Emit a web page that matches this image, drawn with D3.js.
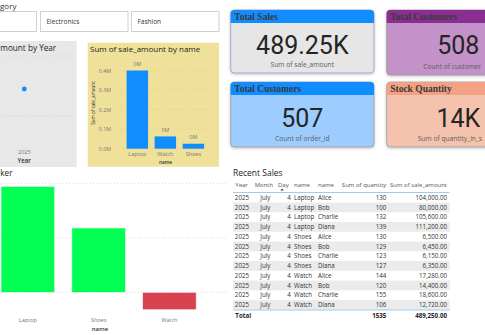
<!DOCTYPE html>
<html>
<head>
<meta charset="utf-8">
<script src="https://cdn.jsdelivr.net/npm/d3@7"></script>
<style>
  html, body { margin: 0; padding: 0; background: #fff; overflow: hidden; }
  svg { display: block; font-family: "Open Sans", "Segoe UI", sans-serif; }
</style>
</head>
<body>
<div id="dash"></div>
<script>
const W = 485, H = 335;

// slicer
const slicerItems = ["", "Electronics", "Fashion"];

// sum of sale_amount by year
const years = [2025];
const yearSales = [489250];
const yearGrid = [489000, 489500];

// sum of sale_amount by name
const names = ["Laptop", "Watch", "Shoes"];
const nameSales = [400800, 63000, 25450];
const salesTicks = [0, 100000, 200000, 300000, 400000];

// variance chart (bottom left)
const trackNames = ["Laptop", "Shoes", "Watch"];
const trackValues = [97, 59, -16];
const trackGrid = [0, 50, 100];

// cards (labels as far as they are visible in the dashboard crop)
const cardTitles = ["Total Sales", "Total Customers", "Total Customers", "Stock Quantity"];
const cardValues = ["489.25K", "508", "507", "14K"];
const cardLabels = ["Sum of sale_amount", "Count of customer", "Count of order_id", "Sum of quantity_in_s"];
const cardHeadColors = ["#118DFF", "#8A2E92", "#118DFF", "#F2A183"];
const cardBodyColors = ["#E6E6E6", "#C392C9", "#9DCCFF", "#F5C3AD"];

// table
const tableCols = ["Year", "Month", "Day", "name", "name", "Sum of quantity", "Sum of sale_amount"];
const rowYear = [2025, 2025, 2025, 2025, 2025, 2025, 2025, 2025, 2025, 2025, 2025, 2025];
const rowMonth = ["July", "July", "July", "July", "July", "July", "July", "July", "July", "July", "July", "July"];
const rowDay = [4, 4, 4, 4, 4, 4, 4, 4, 4, 4, 4, 4];
const rowProduct = ["Laptop", "Laptop", "Laptop", "Laptop", "Shoes", "Shoes", "Shoes", "Shoes", "Watch", "Watch", "Watch", "Watch"];
const rowCustomer = ["Alice", "Bob", "Charlie", "Diana", "Alice", "Bob", "Charlie", "Diana", "Alice", "Bob", "Charlie", "Diana"];
const rowQty = [130, 100, 132, 139, 130, 129, 123, 127, 144, 120, 155, 106];
const rowAmount = [104000, 80000, 105600, 111200, 6500, 6450, 6150, 6350, 17280, 14400, 18600, 12720];

const svg = d3.select("#dash").append("svg").attr("width", W).attr("height", H);

const defs = svg.append("defs");
const shadow = defs.append("filter").attr("id", "shadow").attr("x", "-10%").attr("y", "-10%").attr("width", "130%").attr("height", "140%");
shadow.append("feDropShadow").attr("dx", 0).attr("dy", 1).attr("stdDeviation", 1.5).attr("flood-color", "#000").attr("flood-opacity", 0.25);

// ==================== slicer =====================
svg.append("text").attr("x", 0).attr("y", 9).attr("font-size", 8).attr("fill", "#333").text("gory");
const slicerX = [-60, 40.5, 131.5];
const slicerW = [96.5, 87.5, 87.5];
slicerItems.forEach((s, i) => {
  svg.append("rect").attr("x", slicerX[i]).attr("y", 11.5).attr("width", slicerW[i]).attr("height", 20)
    .attr("fill", "#fff").attr("stroke", "#d0d0d0");
  svg.append("text").attr("x", slicerX[i] + 6).attr("y", 24).attr("font-size", 6.5).attr("fill", "#333").text(s);
});

// ==================== sale_amount by Year =====================
const yearG = svg.append("g");
yearG.append("rect").attr("x", -2).attr("y", 41).attr("width", 78.5).attr("height", 126).attr("fill", "#E8E8E8");
yearG.append("text").attr("x", 0.3).attr("y", 50.5).attr("font-size", 8.2)
  .attr("fill", "#252423").text("mount by Year");
const yYear = d3.scaleLinear().domain([489000, 489500]).range([116, 56]);
const xYear = d3.scalePoint().domain(years).range([24.3, 24.3]);
yearG.selectAll(".ygrid").data(yearGrid).enter().append("line")
  .attr("x1", 2).attr("x2", 74).attr("y1", d => yYear(d)).attr("y2", d => yYear(d))
  .attr("stroke", "#c8c8c8").attr("stroke-width", 0.6).attr("stroke-dasharray", "1,2");
yearG.selectAll(".ydot").data(years).enter().append("circle")
  .attr("cx", d => xYear(d)).attr("cy", (d, i) => yYear(yearSales[i]) + 3).attr("r", 2.4).attr("fill", "#118DFF");
yearG.append("text").attr("x", 24.3).attr("y", 154).attr("text-anchor", "middle").attr("font-size", 5.5)
  .attr("fill", "#777").text(years[0]);
yearG.append("text").attr("x", 24.3).attr("y", 163).attr("text-anchor", "middle").attr("font-size", 6.2)
  .attr("font-weight", 600).attr("fill", "#333").text("Year");

// ==================== sale_amount by name =====================
const nameG = svg.append("g");
nameG.append("rect").attr("x", 87.7).attr("y", 42.7).attr("width", 131.3).attr("height", 124).attr("fill", "#EFE09A");
nameG.append("text").attr("x", 90).attr("y", 51.5).attr("font-size", 8).attr("fill", "#252423").text("Sum of sale_amount by name");
const yName = d3.scaleLinear().domain([0, 400000]).range([148.7, 70.7]);
const xName = d3.scaleBand().domain(names).range([122.4, 208.3]).paddingInner(0.235).paddingOuter(0.15);
nameG.selectAll(".ngrid").data(salesTicks).enter().append("line")
  .attr("x1", 114).attr("x2", 214).attr("y1", d => yName(d)).attr("y2", d => yName(d))
  .attr("stroke", "#d9cb86").attr("stroke-width", 0.6).attr("stroke-dasharray", "1,2");
const yAxisName = d3.axisLeft(yName).tickValues(salesTicks).tickSize(0).tickPadding(0)
  .tickFormat(d => (d / 1e6).toFixed(1) + "M");
nameG.append("g").attr("transform", "translate(111,0)").call(yAxisName)
  .call(g => g.select(".domain").remove())
  .selectAll("text").attr("font-size", 5.3).attr("fill", "#777").attr("font-family", "Open Sans");
nameG.append("text").attr("transform", "translate(94.5,103) rotate(-90)").attr("text-anchor", "middle")
  .attr("font-size", 4.6).attr("fill", "#333").text("Sum of sale_amount");
nameG.selectAll(".nbar").data(names).enter().append("rect")
  .attr("x", d => xName(d)).attr("width", xName.bandwidth())
  .attr("y", (d, i) => yName(nameSales[i])).attr("height", (d, i) => yName(0) - yName(nameSales[i]))
  .attr("fill", "#118DFF");
nameG.selectAll(".nlab").data(names).enter().append("text")
  .attr("x", d => xName(d) + xName.bandwidth() / 2).attr("y", (d, i) => yName(nameSales[i]) - 4.5)
  .attr("text-anchor", "middle").attr("font-size", 5.3).attr("fill", "#777")
  .text((d, i) => (nameSales[i] / 1e6).toFixed(0) + "M");
const xAxisName = d3.axisBottom(xName).tickSize(0).tickPadding(0);
nameG.append("g").attr("transform", "translate(0,152.5)").call(xAxisName)
  .call(g => g.select(".domain").remove())
  .selectAll("text").attr("font-size", 5.5).attr("fill", "#777").attr("font-family", "Open Sans");
nameG.append("text").attr("x", 165.5).attr("y", 164).attr("text-anchor", "middle").attr("font-size", 4.8)
  .attr("font-weight", 600).attr("fill", "#333").text("name");

// ==================== tracker chart =====================
const trG = svg.append("g");
trG.append("text").attr("x", 0.3).attr("y", 175.5).attr("font-size", 8.2)
  .attr("fill", "#252423").text("ker");
const yTr = d3.scaleLinear().domain([0, 100]).range([292.3, 183.3]);
const xTr = d3.scaleBand().domain(trackNames).range([-7.6, 204.8]).paddingInner(0.244).paddingOuter(0.122);
trG.selectAll(".tgrid").data(trackGrid).enter().append("line")
  .attr("x1", 0).attr("x2", 226).attr("y1", d => yTr(d)).attr("y2", d => yTr(d))
  .attr("stroke", "#c8c8c8").attr("stroke-width", 0.7).attr("stroke-dasharray", "1,2");
trG.selectAll(".tbar").data(trackNames).enter().append("rect")
  .attr("x", d => xTr(d)).attr("width", xTr.bandwidth())
  .attr("y", (d, i) => yTr(Math.max(0, trackValues[i])))
  .attr("height", (d, i) => Math.abs(yTr(trackValues[i]) - yTr(0)))
  .attr("fill", (d, i) => trackValues[i] >= 0 ? "#00FF52" : "#D9434F")
  .attr("stroke", "#f2f2f2").attr("stroke-width", 0.6);
const xAxisTr = d3.axisBottom(xTr).tickSize(0).tickPadding(0);
trG.append("g").attr("transform", "translate(0,318)").call(xAxisTr)
  .call(g => g.select(".domain").remove())
  .selectAll("text").attr("font-size", 5.5).attr("fill", "#777").attr("font-family", "Open Sans");
trG.append("text").attr("x", 100).attr("y", 331).attr("text-anchor", "middle").attr("font-size", 6)
  .attr("font-weight", 600).attr("fill", "#333").text("name");

// ==================== cards =====================
const cardX = [230.7, 386.7, 230.7, 386.7];
const cardY = [10, 10, 82, 82];
const cardW = 143.3, cardH = [63, 65, 65, 65];
cardTitles.forEach((t, i) => {
  const g = svg.append("g").attr("transform", `translate(${cardX[i]},${cardY[i]})`);
  g.append("rect").attr("width", cardW).attr("height", cardH[i]).attr("rx", 3.5)
    .attr("fill", cardBodyColors[i]).attr("stroke", i === 0 ? "#8a98c0" : "#999").attr("stroke-width", 0.8)
    .attr("filter", "url(#shadow)");
  g.append("path")
    .attr("d", `M0,13 V3.5 Q0,0 3.5,0 H${cardW - 3.5} Q${cardW},0 ${cardW},3.5 V13 Z`)
    .attr("fill", cardHeadColors[i]);
  g.append("text").attr("x", 3.5).attr("y", 10.3).attr("font-family", "Liberation Serif, serif")
    .attr("font-weight", 700).attr("font-size", 9.5).attr("fill", "#3a3a3a").text(t);
  g.append("text").attr("x", cardW / 2).attr("y", (i < 2 ? 35 : 35.3) + 9.2).attr("text-anchor", "middle")
    .attr("font-family", "Roboto, sans-serif").attr("font-size", 25).attr("fill", "#252423").text(cardValues[i]);
  // right-hand cards run past the window edge, so their labels start where they show
  const clipped = cardX[i] + cardW > W;
  g.append("text").attr("x", clipped ? (i === 1 ? 36.5 : 31) : cardW / 2).attr("y", i === 0 ? 56.8 : 58.8)
    .attr("text-anchor", clipped ? "start" : "middle")
    .attr("font-size", 6.7).attr("fill", "#605E5C").text(cardLabels[i]);
});

// ==================== table =====================
const tG = svg.append("g");
tG.append("text").attr("x", 233).attr("y", 176).attr("font-size", 8.5).attr("fill", "#252423").text("Recent Sales");
const tableLeft = 233, tableRight = 449.7;
const colX = [235.3, 254.7, 278, 294, 318, 386.3, 447];
const colAnchor = ["start", "start", "start", "start", "start", "end", "end"];
const cellX = [249, 260.3, 290.7, 294, 318, 386.3, 447];
const cellAnchor = ["end", "start", "end", "start", "start", "end", "end"];
const rowY = d3.scaleBand().domain(d3.range(rowYear.length)).range([192.8, 309.8]);
tableCols.forEach((c, i) => {
  tG.append("text").attr("x", colX[i]).attr("y", 186.5).attr("text-anchor", colAnchor[i])
    .attr("font-size", 6).attr("fill", "#555").text(c);
});
tG.append("path").attr("d", "M280.5,190.5 l1.6,-2 l1.6,2 Z").attr("fill", "#333");
tG.selectAll(".band").data(d3.range(rowYear.length).filter(i => i % 2 === 1)).enter().append("rect")
  .attr("x", tableLeft).attr("width", tableRight - tableLeft)
  .attr("y", d => rowY(d)).attr("height", rowY.bandwidth()).attr("fill", "#EBEBEB");
tG.append("line").attr("x1", tableLeft).attr("x2", tableRight).attr("y1", 192.5).attr("y2", 192.5)
  .attr("stroke", "#9FCBF0").attr("stroke-width", 1);
tG.append("line").attr("x1", tableLeft).attr("x2", tableRight).attr("y1", 310).attr("y2", 310)
  .attr("stroke", "#9FCBF0").attr("stroke-width", 1);
const fmtAmt = d3.format(",.2f");
rowYear.forEach((y, r) => {
  const cells = [y, rowMonth[r], rowDay[r], rowProduct[r], rowCustomer[r], rowQty[r], fmtAmt(rowAmount[r])];
  cells.forEach((v, c) => {
    tG.append("text").attr("x", cellX[c]).attr("y", rowY(r) + rowY.bandwidth() / 2 + 2.2)
      .attr("text-anchor", cellAnchor[c]).attr("font-size", 6.2).attr("fill", "#333").text(v);
  });
});
tG.append("text").attr("x", 235.3).attr("y", 317.5).attr("font-size", 6.2).attr("font-weight", 700)
  .attr("fill", "#252423").text("Total");
tG.append("text").attr("x", 386.3).attr("y", 317.5).attr("text-anchor", "end").attr("font-size", 6.2)
  .attr("font-weight", 700).attr("fill", "#252423").text(d3.sum(rowQty));
tG.append("text").attr("x", 447).attr("y", 317.5).attr("text-anchor", "end").attr("font-size", 6.2)
  .attr("font-weight", 700).attr("fill", "#252423").text(fmtAmt(d3.sum(rowAmount)));
</script>
</body>
</html>
